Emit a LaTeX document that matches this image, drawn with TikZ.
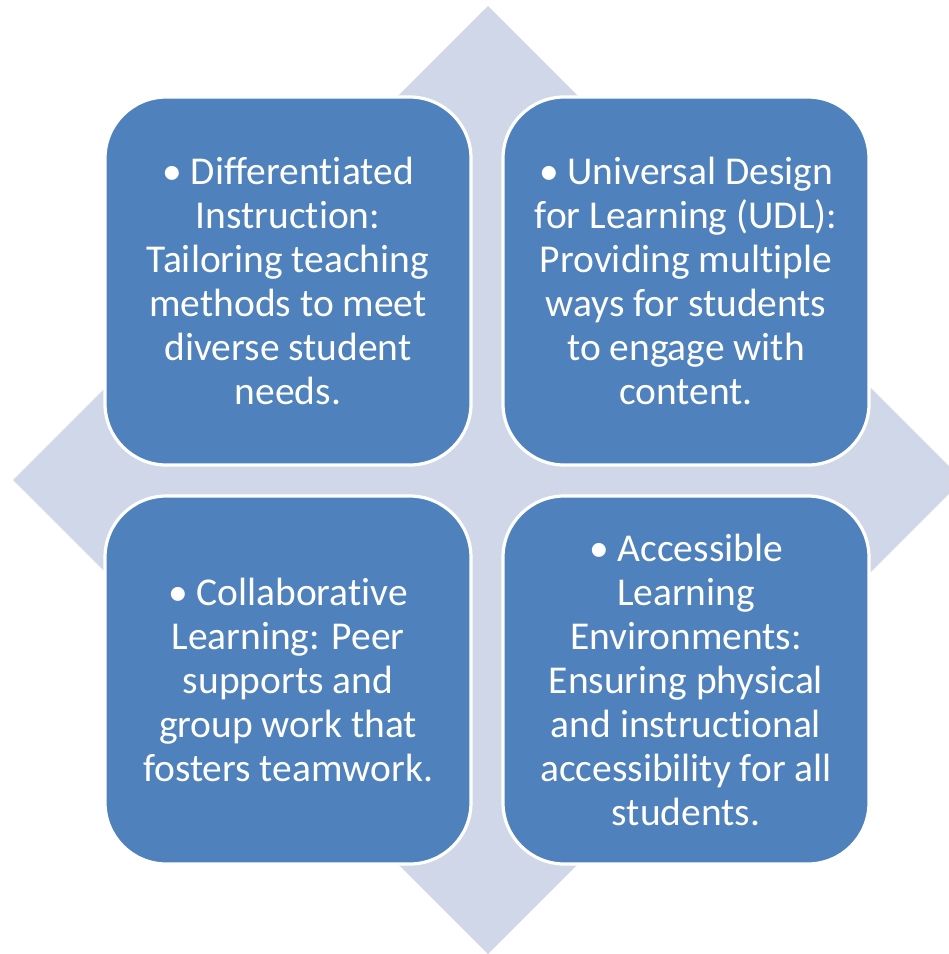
\documentclass[tikz,border=0pt]{standalone}
\usepackage{fontspec}
\setmainfont{Carlito}[Ligatures=NoCommon]
\definecolor{boxblue}{HTML}{4F81BD}
\definecolor{diamondgray}{HTML}{D0D7E8}
% t and i set apart, as in the picture
\newcommand{\ti}{t\kern0pt i}
\tikzset{
  card/.style={rectangle,rounded corners=46pt,fill=boxblue,draw=white,line width=2.4pt,
    minimum width=274.5pt,minimum height=276pt,inner sep=0pt,align=center,text=white,
    font=\fontsize{29.6}{33}\selectfont}
}
\begin{document}
\begin{tikzpicture}[x=0.75pt,y=-0.75pt]
  \useasboundingbox (0,0) rectangle (949,954);
  \clip (0,0) rectangle (949,954);
  % background diamond
  \fill[diamondgray] (488,6) -- (963,480) -- (488,954) -- (13,480) -- cycle;
  % the four cards
  \node[card] (dinstr) at (288,281) {• Differen\ti ated\\Instruc\ti on:\\Tailoring teaching\\methods to meet\\diverse student\\needs.};
  \node[card] (udl) at (686,281) {• Universal Design\\for Learning (UDL):\\Providing multiple\\ways for students\\to engage with\\content.};
  \node[card] (collab) at (288,680) {• Collabora\ti ve\\Learning: Peer\\supports and\\group work that\\fosters teamwork.};
  \node[card] (access) at (686,680) {• Accessible\\Learning\\Environments:\\Ensuring physical\\and instruc\ti onal\\accessibility for all\\students.};
\end{tikzpicture}
\end{document}
